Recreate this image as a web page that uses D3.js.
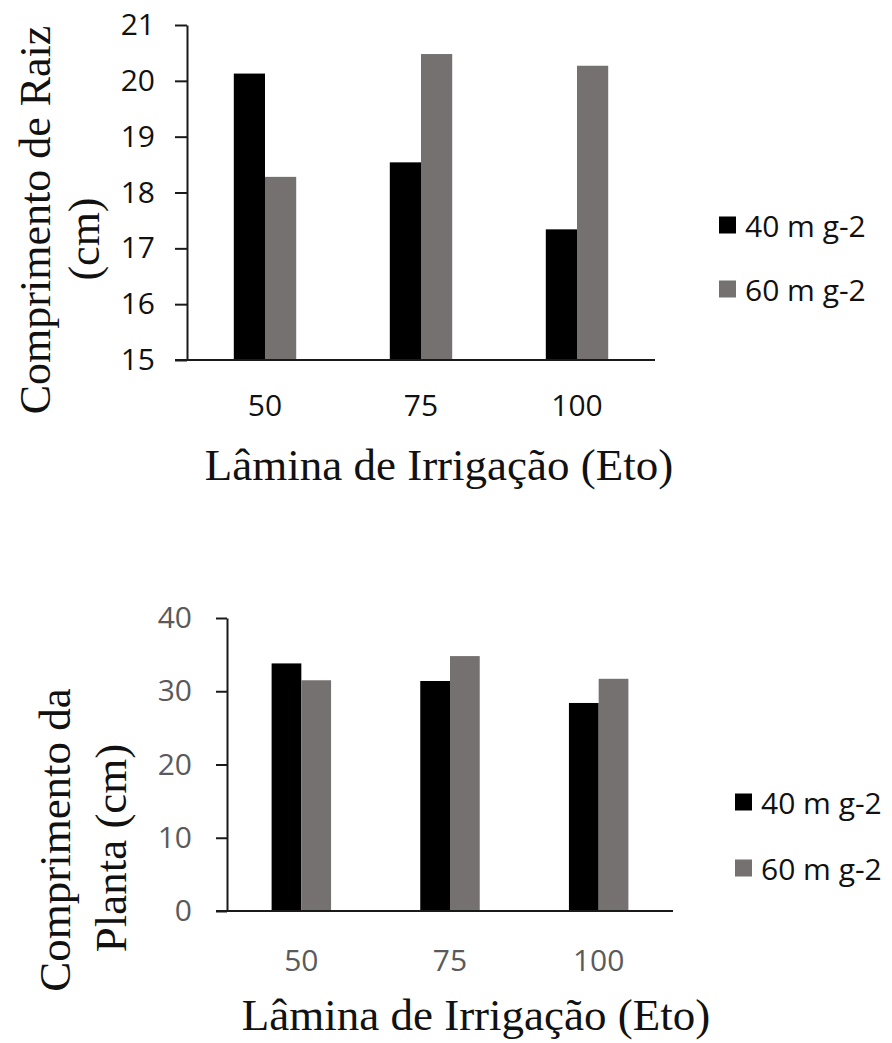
<!DOCTYPE html>
<html>
<head>
<meta charset="utf-8">
<script src="https://cdn.jsdelivr.net/npm/d3@7"></script>
<style>
  body { margin: 0; background: #fff; }
  svg { display: block; }
  .tick text { font-family: "Open Sans", sans-serif; font-size: 30px; }
  .domain, .tick line { stroke: #1a1a1a; stroke-width: 2; }
  .title { font-family: "Liberation Serif", "Times New Roman", serif; font-size: 45px; fill: #111; }
  .leg { font-family: "Open Sans", sans-serif; font-size: 30px; fill: #111; }
</style>
</head>
<body>
<svg id="chart" width="892" height="1043"></svg>
<script>
var categories = ['50', '75', '100']
var seriesNames = ['40 m g-2', '60 m g-2']
var colors = ['#000000', '#767171']

// comprimento de raiz (cm)
var raiz40 = [20.13, 18.54, 17.34]
var raiz60 = [18.28, 20.48, 20.27]
var raizTicks = [15, 16, 17, 18, 19, 20, 21]

// comprimento da planta (cm)
var planta40 = [33.8, 31.4, 28.4]
var planta60 = [31.5, 34.8, 31.7]
var plantaTicks = [0, 10, 20, 30, 40]

var svg = d3.select('#chart')

function drawChart(o){
  var g = svg.append('g')

  var x = d3.scaleBand().domain(categories).range([o.left, o.right])
  var y = d3.scaleLinear().domain(d3.extent(o.ticks)).range([o.bottom, o.top])
  var bw = x.step() * 0.2

  var rows = categories.map(function(c, i){ return {cat: c, vals: [o.s1[i], o.s2[i]]} })

  rows.forEach(function(r){
    r.vals.forEach(function(v, j){
      g.append('rect')
        .attr('x', x(r.cat) + x.step() / 2 - bw + j * bw)
        .attr('y', y(v))
        .attr('width', bw)
        .attr('height', y(o.ticks[0]) - y(v))
        .attr('fill', colors[j])
    })
  })

  // y axis
  var yAxis = d3.axisLeft(y).tickValues(o.ticks).tickFormat(d3.format('d'))
    .tickSize(o.tickLen).tickSizeOuter(0).tickPadding(o.pad)
  var ya = g.append('g').attr('transform', 'translate(' + o.left + ',0)').call(yAxis)
  ya.selectAll('.tick text').attr('fill', o.tickColor)

  // x axis: plain line + labels
  g.append('line')
    .attr('x1', o.left - o.tickLen).attr('x2', o.right)
    .attr('y1', y(o.ticks[0])).attr('y2', y(o.ticks[0]))
    .attr('stroke', '#1a1a1a').attr('stroke-width', 2)

  g.selectAll('text.xl').data(categories).enter().append('text')
    .attr('class', 'xl')
    .attr('x', function(d){ return x(d) + x.step() / 2 })
    .attr('y', o.xLabelY)
    .attr('text-anchor', 'middle')
    .attr('dominant-baseline', 'central')
    .style('font-family', '"Open Sans", sans-serif')
    .style('font-size', '30px')
    .attr('fill', o.tickColor)
    .text(function(d){ return d })

  // titles
  g.append('text').attr('class', 'title')
    .attr('x', o.xTitle[0]).attr('y', o.xTitle[1])
    .attr('text-anchor', 'middle')
    .text('Lâmina de Irrigação (Eto)')

  o.yTitle.forEach(function(t){
    g.append('text').attr('class', 'title')
      .attr('transform', 'translate(' + t.x + ',' + t.y + ') rotate(-90)')
      .attr('text-anchor', 'middle')
      .style('font-size', o.yTitleSize + 'px')
      .text(t.text)
  })

  // legend
  seriesNames.forEach(function(name, j){
    var ly = o.legend[1] + j * o.legendGap
    g.append('rect')
      .attr('x', o.legend[0]).attr('y', ly - 8.5)
      .attr('width', 17).attr('height', 17)
      .attr('fill', colors[j])
    g.append('text').attr('class', 'leg')
      .attr('x', o.legend[0] + 26).attr('y', ly)
      .attr('dominant-baseline', 'central')
      .text(name)
  })
}

drawChart({
  s1: raiz40, s2: raiz60, ticks: raizTicks,
  left: 187, right: 655, top: 25, bottom: 360,
  tickLen: 12, pad: 20, tickColor: '#111',
  xLabelY: 404,
  xTitle: [439, 480],
  yTitleSize: 44,
  yTitle: [{text: 'Comprimento de Raiz', x: 50, y: 220}, {text: '(cm)', x: 99, y: 239}],
  legend: [719, 225], legendGap: 64
})

drawChart({
  s1: planta40, s2: planta60, ticks: plantaTicks,
  left: 227, right: 673, top: 618, bottom: 911,
  tickLen: 11, pad: 24, tickColor: '#5a5a5a',
  xLabelY: 959,
  xTitle: [476, 1030],
  yTitleSize: 45,
  yTitle: [{text: 'Comprimento da', x: 70, y: 840}, {text: 'Planta (cm)', x: 126, y: 848}],
  legend: [735, 802], legendGap: 66
})
</script>
</body>
</html>
